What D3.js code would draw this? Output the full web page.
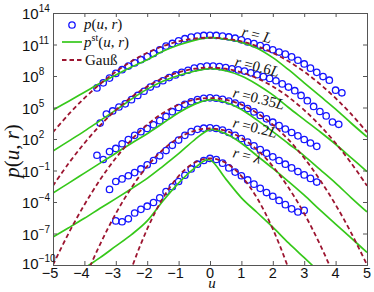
<!DOCTYPE html>
<html><head><meta charset="utf-8">
<script src="https://cdn.jsdelivr.net/npm/d3@7"></script>
<style>body{margin:0;background:#fff}</style>
</head><body><svg id="c" width="374" height="292"></svg>
<script>
// ---------- data (log10 p) ----------
const xTickVals = [-5,-4,-3,-2,-1,0,1,2,3,4,5];
const xTickLabels = ["\u22125","\u22124","\u22123","\u22122","\u22121","0","1","2","3","4","5"];
const yTickExps = [-10,-7,-4,-1,2,5,8,11,14];
const seriesLabels = ["r = L","r =0.6L","r =0.35L","r =0.2L","r = \u03bb"];

// measured p(u,r) circles
const uL   = [-3.6,-3.4,-3.2,-3.0,-2.8,-2.6,-2.4,-2.2,-2.0,-1.8,-1.6,-1.4,-1.2,-1.0,-0.8,-0.6,-0.4,-0.2,0,0.2,0.4,0.6,0.8,1.0,1.2,1.4,1.6,1.8,2.0,2.2,2.4,2.6,2.8,3.0,3.2,3.4,3.6,3.8,4.0,4.2];
const pL   = [6.86,7.35,7.8,8.25,8.6,8.95,9.25,9.55,9.85,10.15,10.5,10.85,11.1,11.35,11.55,11.7,11.8,11.86,11.88,11.86,11.8,11.72,11.6,11.45,11.25,11.08,10.9,10.7,10.5,10.28,10.08,9.82,9.5,9.15,8.75,8.35,7.95,7.6,6.65,6.4];
const u06  = [-3.5,-3.3,-3.1,-2.9,-2.7,-2.5,-2.3,-2.1,-1.9,-1.7,-1.5,-1.3,-1.1,-0.9,-0.7,-0.5,-0.3,-0.1,0.1,0.3,0.5,0.7,0.9,1.1,1.3,1.5,1.7,1.9,2.1,2.3,2.5,2.7,2.9,3.1,3.3,3.5,3.7,3.9,4.1];
const p06  = [3.52,4.38,4.67,5.05,5.35,5.75,6.15,6.55,6.95,7.25,7.55,7.85,8.1,8.35,8.55,8.75,8.88,8.94,8.95,8.9,8.8,8.68,8.58,8.47,8.3,8.12,7.94,7.77,7.55,7.25,6.95,6.6,6.15,5.65,5.1,4.62,4.2,3.62,3.4];
const u035 = [-3.6,-3.4,-3.2,-3.0,-2.8,-2.6,-2.4,-2.2,-2.0,-1.8,-1.6,-1.4,-1.2,-1.0,-0.8,-0.6,-0.4,-0.2,0,0.2,0.4,0.6,0.8,1.0,1.2,1.4,1.6,1.8,2.0,2.2,2.4,2.6,2.8,3.0,3.2,3.4];
const p035 = [0.45,0.05,0.8,1.1,1.55,1.95,2.35,2.7,3.0,3.35,3.75,4.15,4.6,5.0,5.3,5.55,5.75,5.88,5.92,5.88,5.78,5.62,5.42,5.2,4.9,4.58,4.25,3.92,3.6,3.27,2.95,2.62,2.3,1.95,1.62,1.3];
const u02  = [-3.2,-3.0,-2.8,-2.6,-2.4,-2.2,-2.0,-1.8,-1.6,-1.4,-1.2,-1.0,-0.8,-0.6,-0.4,-0.2,0,0.2,0.4,0.6,0.8,1.0,1.2,1.4,1.6,1.8,2.0,2.2,2.4,2.6,2.8,3.0,3.2,3.4];
const p02  = [-2.8,-2.05,-1.8,-1.5,-1.2,-0.85,-0.45,-0.05,0.4,0.9,1.4,1.9,2.35,2.7,2.92,3.03,3.06,3.0,2.85,2.62,2.35,2.05,1.7,1.35,1.0,0.65,0.3,-0.05,-0.4,-0.75,-1.1,-1.42,-1.75,-2.1];
const uLam = [-3.0,-2.8,-2.6,-2.4,-2.2,-2.0,-1.8,-1.6,-1.4,-1.2,-1.0,-0.8,-0.6,-0.4,-0.2,0,0.2,0.4,0.6,0.8,1.0,1.2,1.4,1.6,1.8,2.0,2.2,2.4,2.6,2.8,3.0];
const pLam = [-5.8,-5.88,-5.6,-5.05,-4.7,-4.4,-4.05,-3.6,-3.0,-2.55,-2.05,-1.45,-0.85,-0.4,-0.05,0.15,0.05,-0.3,-0.75,-1.15,-1.5,-1.9,-2.3,-2.7,-3.1,-3.45,-3.85,-4.25,-4.65,-4.95,-4.8];

// model curves on a common u grid
const uGrid = [-5,-4.5,-4,-3.5,-3,-2.5,-2,-1.5,-1,-0.5,0,0.5,1,1.5,2,2.5,3,3.5,4,4.5,5];
const stL   = [4.76,5.6,6.45,7.3,8.1,8.85,9.55,10.35,10.95,11.4,11.65,11.5,11.2,10.65,9.75,8.6,7.35,6.1,4.85,3.5,2.2];
const st06  = [0.86,1.8,2.75,3.75,4.75,5.8,6.75,7.5,8.05,8.45,8.7,8.5,8.0,7.2,6.2,5.0,3.85,2.7,1.5,0.2,-1.1];
const st035 = [-3.14,-2.2,-1.25,-0.3,0.65,1.6,2.5,3.5,4.5,5.3,5.75,5.5,4.8,3.8,2.7,1.55,0.4,-0.9,-2.2,-3.6,-4.95];
const st02  = [-7.33,-6.45,-5.55,-4.6,-3.68,-2.73,-1.75,-0.6,0.6,1.9,2.9,2.5,1.6,0.4,-0.8,-2.05,-3.35,-4.75,-6.1,-7.45,-8.8];
const stLam = [-12.3,-11.3,-10.3,-9.3,-8.2,-7.1,-5.8,-3.9,-2.2,-0.8,0.0,-1.8,-3.6,-5.0,-6.4,-7.9,-9.3,-10.7,-12.1,-13.5,-14.9];
const gaL   = [2.65,4.36,5.89,7.24,8.41,9.40,10.21,10.84,11.29,11.56,11.65,11.56,11.29,10.84,10.21,9.40,8.41,7.24,5.89,4.36,2.65];
const ga06  = [-2.45,-0.31,1.6,3.29,4.75,5.99,7.0,7.79,8.35,8.69,8.8,8.69,8.35,7.79,7.0,5.99,4.75,3.29,1.6,-0.31,-2.45];
const ga035 = [-9.98,-6.96,-4.26,-1.88,0.19,1.93,3.36,4.47,5.27,5.74,5.9,5.74,5.27,4.47,3.36,1.93,0.19,-1.88,-4.26,-6.96,-9.98];
const ga02  = [-19.5,-15.2,-11.4,-8.03,-5.1,-2.63,-0.6,0.98,2.1,2.78,3.0,2.78,2.1,0.98,-0.6,-2.63,-5.1,-8.03,-11.4,-15.2,-19.5];
const gaLam = [-41.9,-33.9,-26.7,-20.4,-15.0,-10.35,-6.57,-3.63,-1.53,-0.27,0.15,-0.27,-1.53,-3.63,-6.57,-10.35,-15.0,-20.4,-26.7,-33.9,-41.9];

// ---------- drawing ----------
const L = 53, R = 367, T = 13, B = 265;
const svg = d3.select("#c");
const x = d3.scaleLinear().domain([-5,5]).range([L,R]);
const y = d3.scaleLog().domain([1e-10,1e14]).range([B,T]);
const P = v => y(Math.pow(10, v));

const BLUE = "#1414ff", GREEN = "#36c81a", RED = "#9c1530";
const serif = "'Liberation Serif', 'DejaVu Serif', serif";
const sans = "'Liberation Sans', Arial, sans-serif";

svg.append("defs").append("clipPath").attr("id","clip")
  .append("rect").attr("x",L).attr("y",T).attr("width",R-L).attr("height",B-T);
const plot = svg.append("g").attr("clip-path","url(#clip)");

const circ = [[uL,pL],[u06,p06],[u035,p035],[u02,p02],[uLam,pLam]];
const stAll = [stL,st06,st035,st02,stLam];
const gaAll = [gaL,ga06,ga035,ga02,gaLam];

circ.forEach(([us,ps]) => {
  plot.append("g").selectAll("circle").data(ps).join("circle")
    .attr("cx",(d,i)=>x(us[i])).attr("cy",d=>P(d)).attr("r",3.2)
    .attr("fill","none").attr("stroke",BLUE).attr("stroke-width",1.3);
});
const line = d3.line().x((d,i)=>x(uGrid[i])).y(d=>P(d)).curve(d3.curveCatmullRom.alpha(0));
stAll.forEach(s => plot.append("path").attr("d",line(s)).attr("fill","none")
  .attr("stroke",GREEN).attr("stroke-width",1.7));
gaAll.forEach(s => plot.append("path").attr("d",line(s)).attr("fill","none")
  .attr("stroke",RED).attr("stroke-width",1.8).attr("stroke-dasharray","4.5,3"));

// axes (ticks inward on all sides)
const tv = yTickExps.map(e=>Math.pow(10,e));
function clean(g){ g.select(".domain").remove(); g.selectAll("line").attr("stroke","#555"); }
svg.append("g").attr("transform",`translate(${L},0)`).call(d3.axisLeft(y).tickValues(tv).tickSize(-4).tickFormat("")).call(clean);
svg.append("g").attr("transform",`translate(${R},0)`).call(d3.axisRight(y).tickValues(tv).tickSize(-4).tickFormat("")).call(clean);
svg.append("g").attr("transform",`translate(0,${B})`).call(d3.axisBottom(x).tickValues(xTickVals).tickSize(-4).tickFormat("")).call(clean);
svg.append("g").attr("transform",`translate(0,${T})`).call(d3.axisTop(x).tickValues(xTickVals).tickSize(-4).tickFormat("")).call(clean);
svg.append("rect").attr("x",L).attr("y",T).attr("width",R-L).attr("height",B-T)
  .attr("fill","none").attr("stroke","#555").attr("stroke-width",1).attr("shape-rendering","crispEdges");

// y tick labels 10^e
yTickExps.forEach(e => {
  const t = svg.append("text").attr("x",22).attr("y",y(Math.pow(10,e))+(e===-10?4:6))
    .attr("font-family",sans).attr("font-size",15).attr("fill","#111");
  t.append("tspan").text("10");
  t.append("tspan").attr("dy",-7).attr("font-size",10).text(String(e).replace("-","\u2212"));
});
// x tick labels
xTickVals.forEach((v,i) => {
  svg.append("text").attr("x",x(v)-(v<0?3:0)).attr("y",277.5).attr("text-anchor","middle")
    .attr("font-family",sans).attr("font-size",14.5).attr("fill","#111").text(xTickLabels[i]);
});
// axis titles
svg.append("text").attr("x",212).attr("y",288).attr("text-anchor","middle")
  .attr("font-family",serif).attr("font-style","italic").attr("font-size",15).attr("fill","#111").text("u");
svg.append("text").attr("transform","translate(19,151) rotate(-90)").attr("text-anchor","middle")
  .attr("font-family",serif).attr("font-size",21).attr("fill","#111")
  .html("<tspan font-style='italic'>p</tspan>(<tspan font-style='italic'>u</tspan>, <tspan font-style='italic'>r</tspan>)");

// curve labels
const labPos = [[241,36],[234,66],[232,97],[232,127],[232,157]];
seriesLabels.forEach((s,i) => {
  const t = svg.append("text").attr("transform",`translate(${labPos[i][0]},${labPos[i][1]}) rotate(14)`)
    .attr("font-family",serif).attr("font-size",15).attr("fill","#111");
  t.append("tspan").attr("font-style","italic").text(s.slice(0,1));
  t.append("tspan").text(s.slice(1,-1));
  t.append("tspan").attr("font-style","italic").text(s.slice(-1));
});

// legend
const lg = svg.append("g");
lg.append("circle").attr("cx",72).attr("cy",25).attr("r",3.2).attr("fill","none").attr("stroke",BLUE).attr("stroke-width",1.3);
lg.append("text").attr("x",84).attr("y",29).attr("font-family",serif).attr("font-size",15).attr("fill","#111")
  .html("<tspan font-style='italic'>p</tspan>(<tspan font-style='italic'>u</tspan>, <tspan font-style='italic'>r</tspan>)");
lg.append("line").attr("x1",62).attr("x2",82).attr("y1",42).attr("y2",42).attr("stroke",GREEN).attr("stroke-width",1.7);
lg.append("text").attr("x",84).attr("y",47).attr("font-family",serif).attr("font-size",15).attr("fill","#111")
  .html("<tspan font-style='italic'>p</tspan><tspan dy='-6' font-size='10'>st</tspan><tspan dy='6'>(</tspan><tspan font-style='italic'>u</tspan>, <tspan font-style='italic'>r</tspan>)");
lg.append("line").attr("x1",62).attr("x2",82).attr("y1",60).attr("y2",60).attr("stroke",RED).attr("stroke-width",1.8).attr("stroke-dasharray","4.5,3");
lg.append("text").attr("x",85).attr("y",65).attr("font-family",serif).attr("font-size",15).attr("fill","#111").text("Gau\u00df");
</script></body></html>
